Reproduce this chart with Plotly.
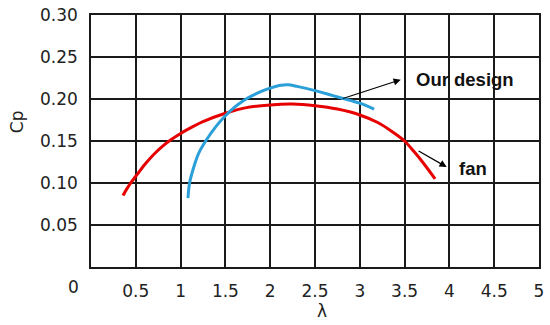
import plotly.graph_objects as go

# Data
fan_lambda = [0.357, 0.4, 0.45, 0.5, 0.6, 0.7, 0.8, 0.9, 1.0, 1.1, 1.25, 1.5, 1.75, 2.0, 2.25, 2.5, 2.75, 3.0, 3.2, 3.35, 3.5, 3.6, 3.7, 3.84]
fan_cp = [0.085, 0.093, 0.101, 0.108, 0.122, 0.134, 0.144, 0.152, 0.159, 0.165, 0.173, 0.183, 0.190, 0.193, 0.194, 0.192, 0.188, 0.181, 0.172, 0.162, 0.150, 0.138, 0.125, 0.105]

design_lambda = [1.082, 1.1, 1.15, 1.2, 1.28, 1.4, 1.5, 1.6, 1.7, 1.8, 1.9, 2.0, 2.1, 2.2, 2.3, 2.5, 2.7, 2.9, 3.0, 3.16]
design_cp = [0.082, 0.100, 0.120, 0.135, 0.150, 0.168, 0.180, 0.190, 0.198, 0.204, 0.209, 0.213, 0.216, 0.217, 0.215, 0.210, 0.204, 0.198, 0.195, 0.188]

x_ticks = [0.5, 1, 1.5, 2, 2.5, 3, 3.5, 4, 4.5, 5]
x_ticktext = ["0.5", "1", "1.5", "2", "2.5", "3", "3.5", "4", "4.5", "5"]
y_ticks = [0.05, 0.10, 0.15, 0.20, 0.25, 0.30]
y_ticktext = ["0.05", "0.10", "0.15", "0.20", "0.25", "0.30"]

FONT = "DejaVu Sans"

fig = go.Figure()
fig.add_trace(go.Scatter(x=fan_lambda, y=fan_cp, mode="lines",
                         line=dict(color="#e60000", width=3, shape="spline", smoothing=0.8),
                         name="fan", showlegend=False))
fig.add_trace(go.Scatter(x=design_lambda, y=design_cp, mode="lines",
                         line=dict(color="#2a9fd8", width=3, shape="spline", smoothing=0.8),
                         name="Our design", showlegend=False))

# arrows
fig.add_annotation(x=3.457, y=0.223, ax=2.795, ay=0.200, axref="x", ayref="y",
                   xref="x", yref="y", text="", showarrow=True,
                   arrowhead=2, arrowsize=1.2, arrowwidth=1.2, arrowcolor="black")
fig.add_annotation(x=3.97, y=0.119, ax=3.64, ay=0.139, axref="x", ayref="y",
                   xref="x", yref="y", text="", showarrow=True,
                   arrowhead=2, arrowsize=1.2, arrowwidth=1.2, arrowcolor="black")
# labels
fig.add_annotation(x=3.61, y=0.223, xref="x", yref="y", text="<b>Our design</b>",
                   showarrow=False, xanchor="left", yanchor="middle",
                   font=dict(family="Liberation Sans", size=18.5, color="#111"))
fig.add_annotation(x=4.09, y=0.117, xref="x", yref="y", text="<b>fan</b>",
                   showarrow=False, xanchor="left", yanchor="middle",
                   font=dict(family="Liberation Sans", size=18.5, color="#111"))
# axis titles and origin label
fig.add_annotation(x=-0.165, y=0.575, xref="paper", yref="paper", text="Cp",
                   textangle=-90, showarrow=False, xanchor="center", yanchor="middle",
                   font=dict(family=FONT, size=17, color="#222"))
fig.add_annotation(x=0.516, y=-0.175, xref="paper", yref="paper", text="λ",
                   showarrow=False, xanchor="center", yanchor="middle",
                   font=dict(family=FONT, size=17, color="#222"))
fig.add_annotation(x=-0.038, y=-0.079, xref="paper", yref="paper", text="0",
                   showarrow=False, xanchor="center", yanchor="middle",
                   font=dict(family=FONT, size=17, color="#222"))

fig.update_xaxes(range=[0, 5], tickvals=x_ticks, ticktext=x_ticktext,
                 showgrid=True, gridcolor="#1a1a1a", gridwidth=1.5,
                 showline=True, linecolor="#1a1a1a", linewidth=1.5, mirror=True,
                 zeroline=False, ticks="", ticklabelstandoff=8, automargin=False,
                 tickfont=dict(family=FONT, size=17, color="#222"))
fig.update_yaxes(range=[0, 0.30], tickvals=y_ticks, ticktext=y_ticktext,
                 showgrid=True, gridcolor="#1a1a1a", gridwidth=1.5,
                 showline=True, linecolor="#1a1a1a", linewidth=1.5, mirror=True,
                 zeroline=False, ticks="", ticklabelstandoff=8, automargin=False,
                 tickfont=dict(family=FONT, size=17, color="#222"))

fig.update_layout(width=550, height=325,
                  margin=dict(l=91, r=11, t=15, b=58, autoexpand=False),
                  paper_bgcolor="white", plot_bgcolor="white",
                  showlegend=False)

fig.write_html("out.html", config={"displayModeBar": False},
               post_script="document.body.style.margin='0';document.body.style.overflow='hidden';")
